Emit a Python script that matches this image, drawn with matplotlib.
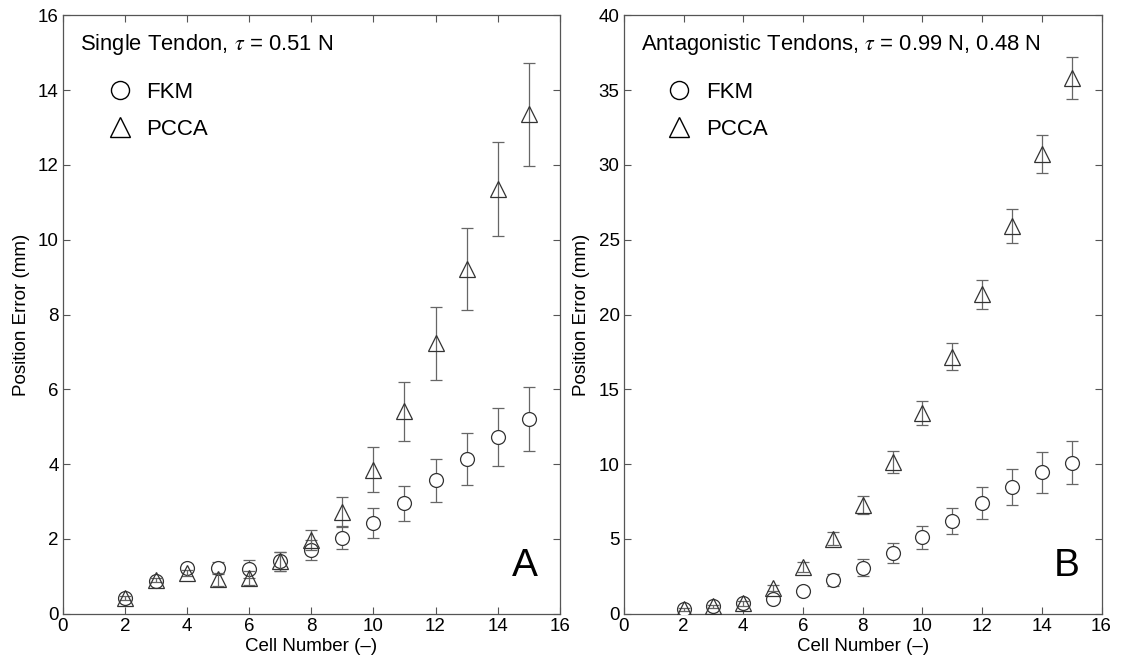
import matplotlib
matplotlib.use("Agg")
import matplotlib.pyplot as plt
from matplotlib.lines import Line2D

plt.rcParams['font.family'] = ['Liberation Sans', 'DejaVu Sans']
plt.rcParams['mathtext.fontset'] = 'stix'

cells = [2, 3, 4, 5, 6, 7, 8, 9, 10, 11, 12, 13, 14, 15]

# Panel A: single tendon
a_fkm = [0.43, 0.89, 1.23, 1.23, 1.21, 1.40, 1.70, 2.03, 2.42, 2.95, 3.57, 4.13, 4.72, 5.20]
a_fkm_err = [0.05, 0.06, 0.10, 0.16, 0.24, 0.25, 0.27, 0.30, 0.40, 0.47, 0.58, 0.70, 0.78, 0.86]
a_pcca = [0.42, 0.90, 1.09, 0.92, 0.96, 1.40, 1.97, 2.73, 3.85, 5.42, 7.23, 9.22, 11.35, 13.35]
a_pcca_err = [0.05, 0.06, 0.08, 0.18, 0.18, 0.25, 0.26, 0.38, 0.60, 0.79, 0.97, 1.10, 1.25, 1.38]

# Panel B: antagonistic tendons
b_fkm = [0.30, 0.50, 0.70, 1.00, 1.55, 2.28, 3.09, 4.07, 5.10, 6.20, 7.40, 8.50, 9.45, 10.10]
b_fkm_err = [0.10, 0.12, 0.15, 0.20, 0.25, 0.40, 0.55, 0.65, 0.80, 0.90, 1.05, 1.20, 1.35, 1.45]
b_pcca = [0.30, 0.50, 0.70, 1.73, 3.13, 5.02, 7.30, 10.16, 13.40, 17.19, 21.34, 25.93, 30.75, 35.83]
b_pcca_err = [0.10, 0.12, 0.15, 0.20, 0.35, 0.45, 0.60, 0.75, 0.80, 0.90, 1.00, 1.15, 1.27, 1.40]

panels = [
    dict(fkm=a_fkm, fkm_err=a_fkm_err, pcca=a_pcca, pcca_err=a_pcca_err,
         ylim=(0, 16), yticks=[0, 2, 4, 6, 8, 10, 12, 14, 16],
         title=r'Single Tendon, $\tau$ = 0.51 N', letter='A'),
    dict(fkm=b_fkm, fkm_err=b_fkm_err, pcca=b_pcca, pcca_err=b_pcca_err,
         ylim=(0, 40), yticks=[0, 5, 10, 15, 20, 25, 30, 35, 40],
         title=r'Antagonistic Tendons, $\tau$ = 0.99 N, 0.48 N', letter='B'),
]

fig = plt.figure(figsize=(11.24, 6.65), dpi=100)
rects = [[0.056, 0.077, 0.442, 0.900], [0.555, 0.077, 0.425, 0.900]]

spine_c = '#555555'
err_c = '#666666'
mk_c = '#333333'

for rect, p in zip(rects, panels):
    ax = fig.add_axes(rect)
    ax.errorbar(cells, p['fkm'], yerr=p['fkm_err'], fmt='o', ms=10, mfc='white',
                mec=mk_c, mew=0.9, ecolor=err_c, elinewidth=0.9, capsize=4, capthick=0.9, zorder=3)
    ax.errorbar(cells, p['pcca'], yerr=p['pcca_err'], fmt='^', ms=12, mfc='none',
                mec=mk_c, mew=0.9, ecolor=err_c, elinewidth=0.9, capsize=4, capthick=0.9, zorder=4)
    ax.set_xlim(0, 16)
    ax.set_ylim(*p['ylim'])
    ax.set_xticks(range(0, 17, 2))
    ax.set_yticks(p['yticks'])
    ax.tick_params(direction='in', top=True, right=True, labelsize=13.5, length=5,
                   color=spine_c, width=0.8, pad=3)
    for s in ax.spines.values():
        s.set_color(spine_c)
        s.set_linewidth(0.9)
    ax.set_xlabel('Cell Number (–)', fontsize=13.5, labelpad=2)
    ax.set_ylabel('Position Error (mm)', fontsize=13.5, labelpad=6)
    ax.text(0.035, 0.952, p['title'], transform=ax.transAxes, fontsize=15.8,
            ha='left', va='center')
    handles = [Line2D([], [], ls='none', marker='o', ms=13, mfc='white', mec='black', mew=1.0),
               Line2D([], [], ls='none', marker='^', ms=14, mfc='white', mec='black', mew=1.0)]
    ax.legend(handles, ['FKM', 'PCCA'], loc='upper left', bbox_to_anchor=(0.07, 0.903),
              frameon=False, fontsize=16, handletextpad=0.6, labelspacing=0.7,
              borderaxespad=0, handlelength=1.2)
    ax.text(0.955, 0.05, p['letter'], transform=ax.transAxes, fontsize=28,
            ha='right', va='bottom')

fig.savefig('out.png', dpi=100)
